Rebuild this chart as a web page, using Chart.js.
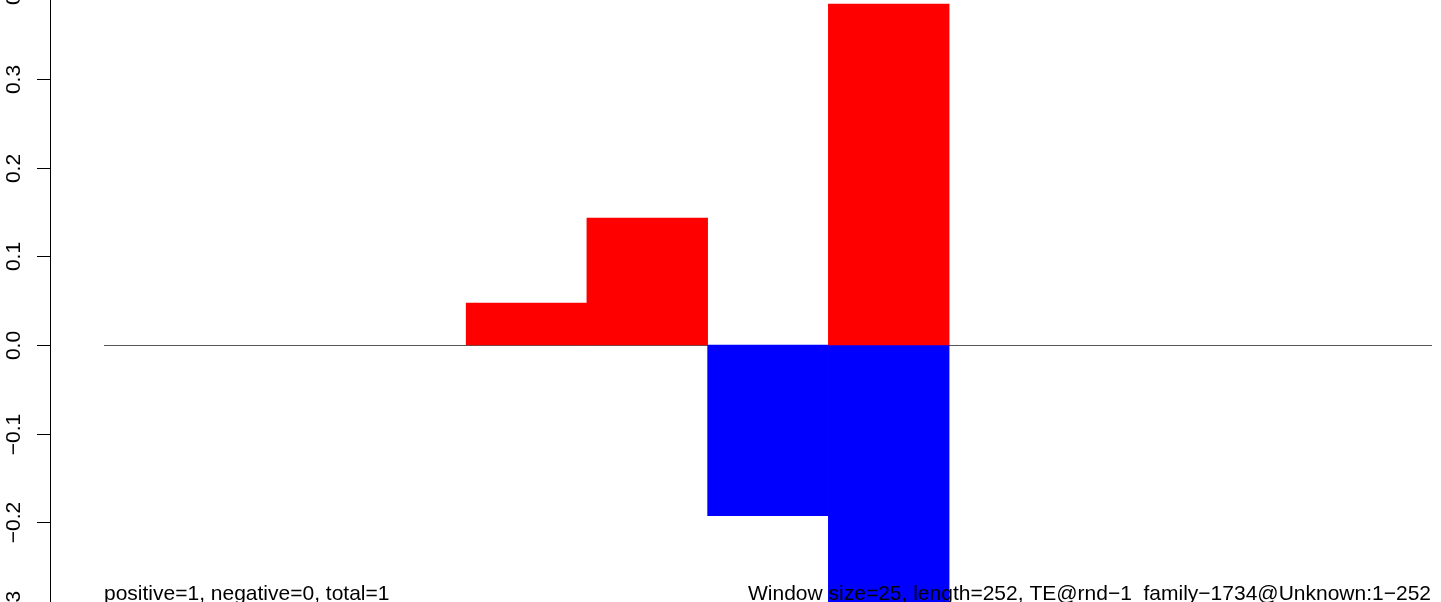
<!DOCTYPE html>
<html>
<head>
<meta charset="utf-8">
<script src="https://cdn.jsdelivr.net/npm/chart.js@4/dist/chart.umd.min.js"></script>
<style>
    body { margin: 0; background: #fff; }
    canvas { display: block; }
</style>
</head>
<body>
<canvas id="grafico" width="1441" height="602"></canvas>
<script>
// dados
const categorias = ['1', '2', '3', '4', '5', '6', '7', '8', '9', '10', '11'];
const valoresPositivos = [null, null, null, 0.0474, 0.1432, null, 0.3846, null, null, null, null];
const valoresNegativos = [null, null, null, null, null, -0.1925, -0.35, null, null, null, null];
const ticksY = [-0.3, -0.2, -0.1, 0.0, 0.1, 0.2, 0.3, 0.4];
const labelsY = ['\u22120.3', '\u22120.2', '\u22120.1', '0.0', '0.1', '0.2', '0.3', '0.4'];
const yMin = -0.2898;
const yMax = 0.3891;

const textoEsquerda = 'positive=1, negative=0, total=1';
const textoDireita = 'Window size=25, length=252, TE@rnd\u22121_family\u22121734@Unknown:1\u2212252';

const fonte = '21px "Liberation Sans", Arial, Helvetica, sans-serif';

// linha do zero, atras das barras
const linhaZero = {
    id: 'linhaZero',
    beforeDatasetsDraw(chart) {
        const ctx = chart.ctx;
        const area = chart.chartArea;
        const y = Math.round(chart.scales.y.getPixelForValue(0)) + 0.5;
        ctx.save();
        ctx.strokeStyle = '#555555';
        ctx.lineWidth = 1;
        ctx.beginPath();
        ctx.moveTo(area.left, y);
        ctx.lineTo(area.right, y);
        ctx.stroke();
        ctx.restore();
    }
};

// eixo y estilo R + textos de baixo
const eixoETextos = {
    id: 'eixoETextos',
    afterDraw(chart) {
        const ctx = chart.ctx;
        const escala = chart.scales.y;
        ctx.save();
        ctx.strokeStyle = '#000';
        ctx.lineWidth = 1;
        ctx.beginPath();
        ctx.moveTo(50.5, escala.getPixelForValue(ticksY[0]));
        ctx.lineTo(50.5, escala.getPixelForValue(ticksY[ticksY.length - 1]));
        ctx.stroke();

        ctx.font = fonte;
        ctx.fillStyle = '#000';
        ticksY.forEach((v, i) => {
            const y = Math.round(escala.getPixelForValue(v)) + 0.5;
            ctx.beginPath();
            ctx.moveTo(37, y);
            ctx.lineTo(50.5, y);
            ctx.stroke();

            ctx.save();
            ctx.translate(20, y);
            ctx.rotate(-Math.PI / 2);
            ctx.textAlign = 'center';
            ctx.textBaseline = 'alphabetic';
            ctx.fillText(labelsY[i], 0, 0);
            ctx.restore();
        });

        ctx.textBaseline = 'alphabetic';
        ctx.textAlign = 'left';
        ctx.fillText(textoEsquerda, 104, 600);
        ctx.textAlign = 'right';
        ctx.fillText(textoDireita, 1431, 600);
        ctx.restore();
    }
};

const ctx = document.getElementById('grafico').getContext('2d');
new Chart(ctx, {
    type: 'bar',
    data: {
        labels: categorias,
        datasets: [
            {
                label: 'positivo',
                data: valoresPositivos,
                backgroundColor: '#ff0000',
                borderWidth: 0,
                categoryPercentage: 1,
                barPercentage: 1
            },
            {
                label: 'negativo',
                data: valoresNegativos,
                backgroundColor: '#0000ff',
                borderWidth: 0,
                categoryPercentage: 1,
                barPercentage: 1
            }
        ]
    },
    options: {
        responsive: false,
        animation: false,
        layout: { padding: { left: 104, right: 9, top: 0, bottom: 0 } },
        plugins: {
            legend: { display: false },
            tooltip: { enabled: false }
        },
        scales: {
            x: { display: false, stacked: true },
            y: { display: false, stacked: true, min: yMin, max: yMax }
        }
    },
    plugins: [linhaZero, eixoETextos]
});
</script>
</body>
</html>
